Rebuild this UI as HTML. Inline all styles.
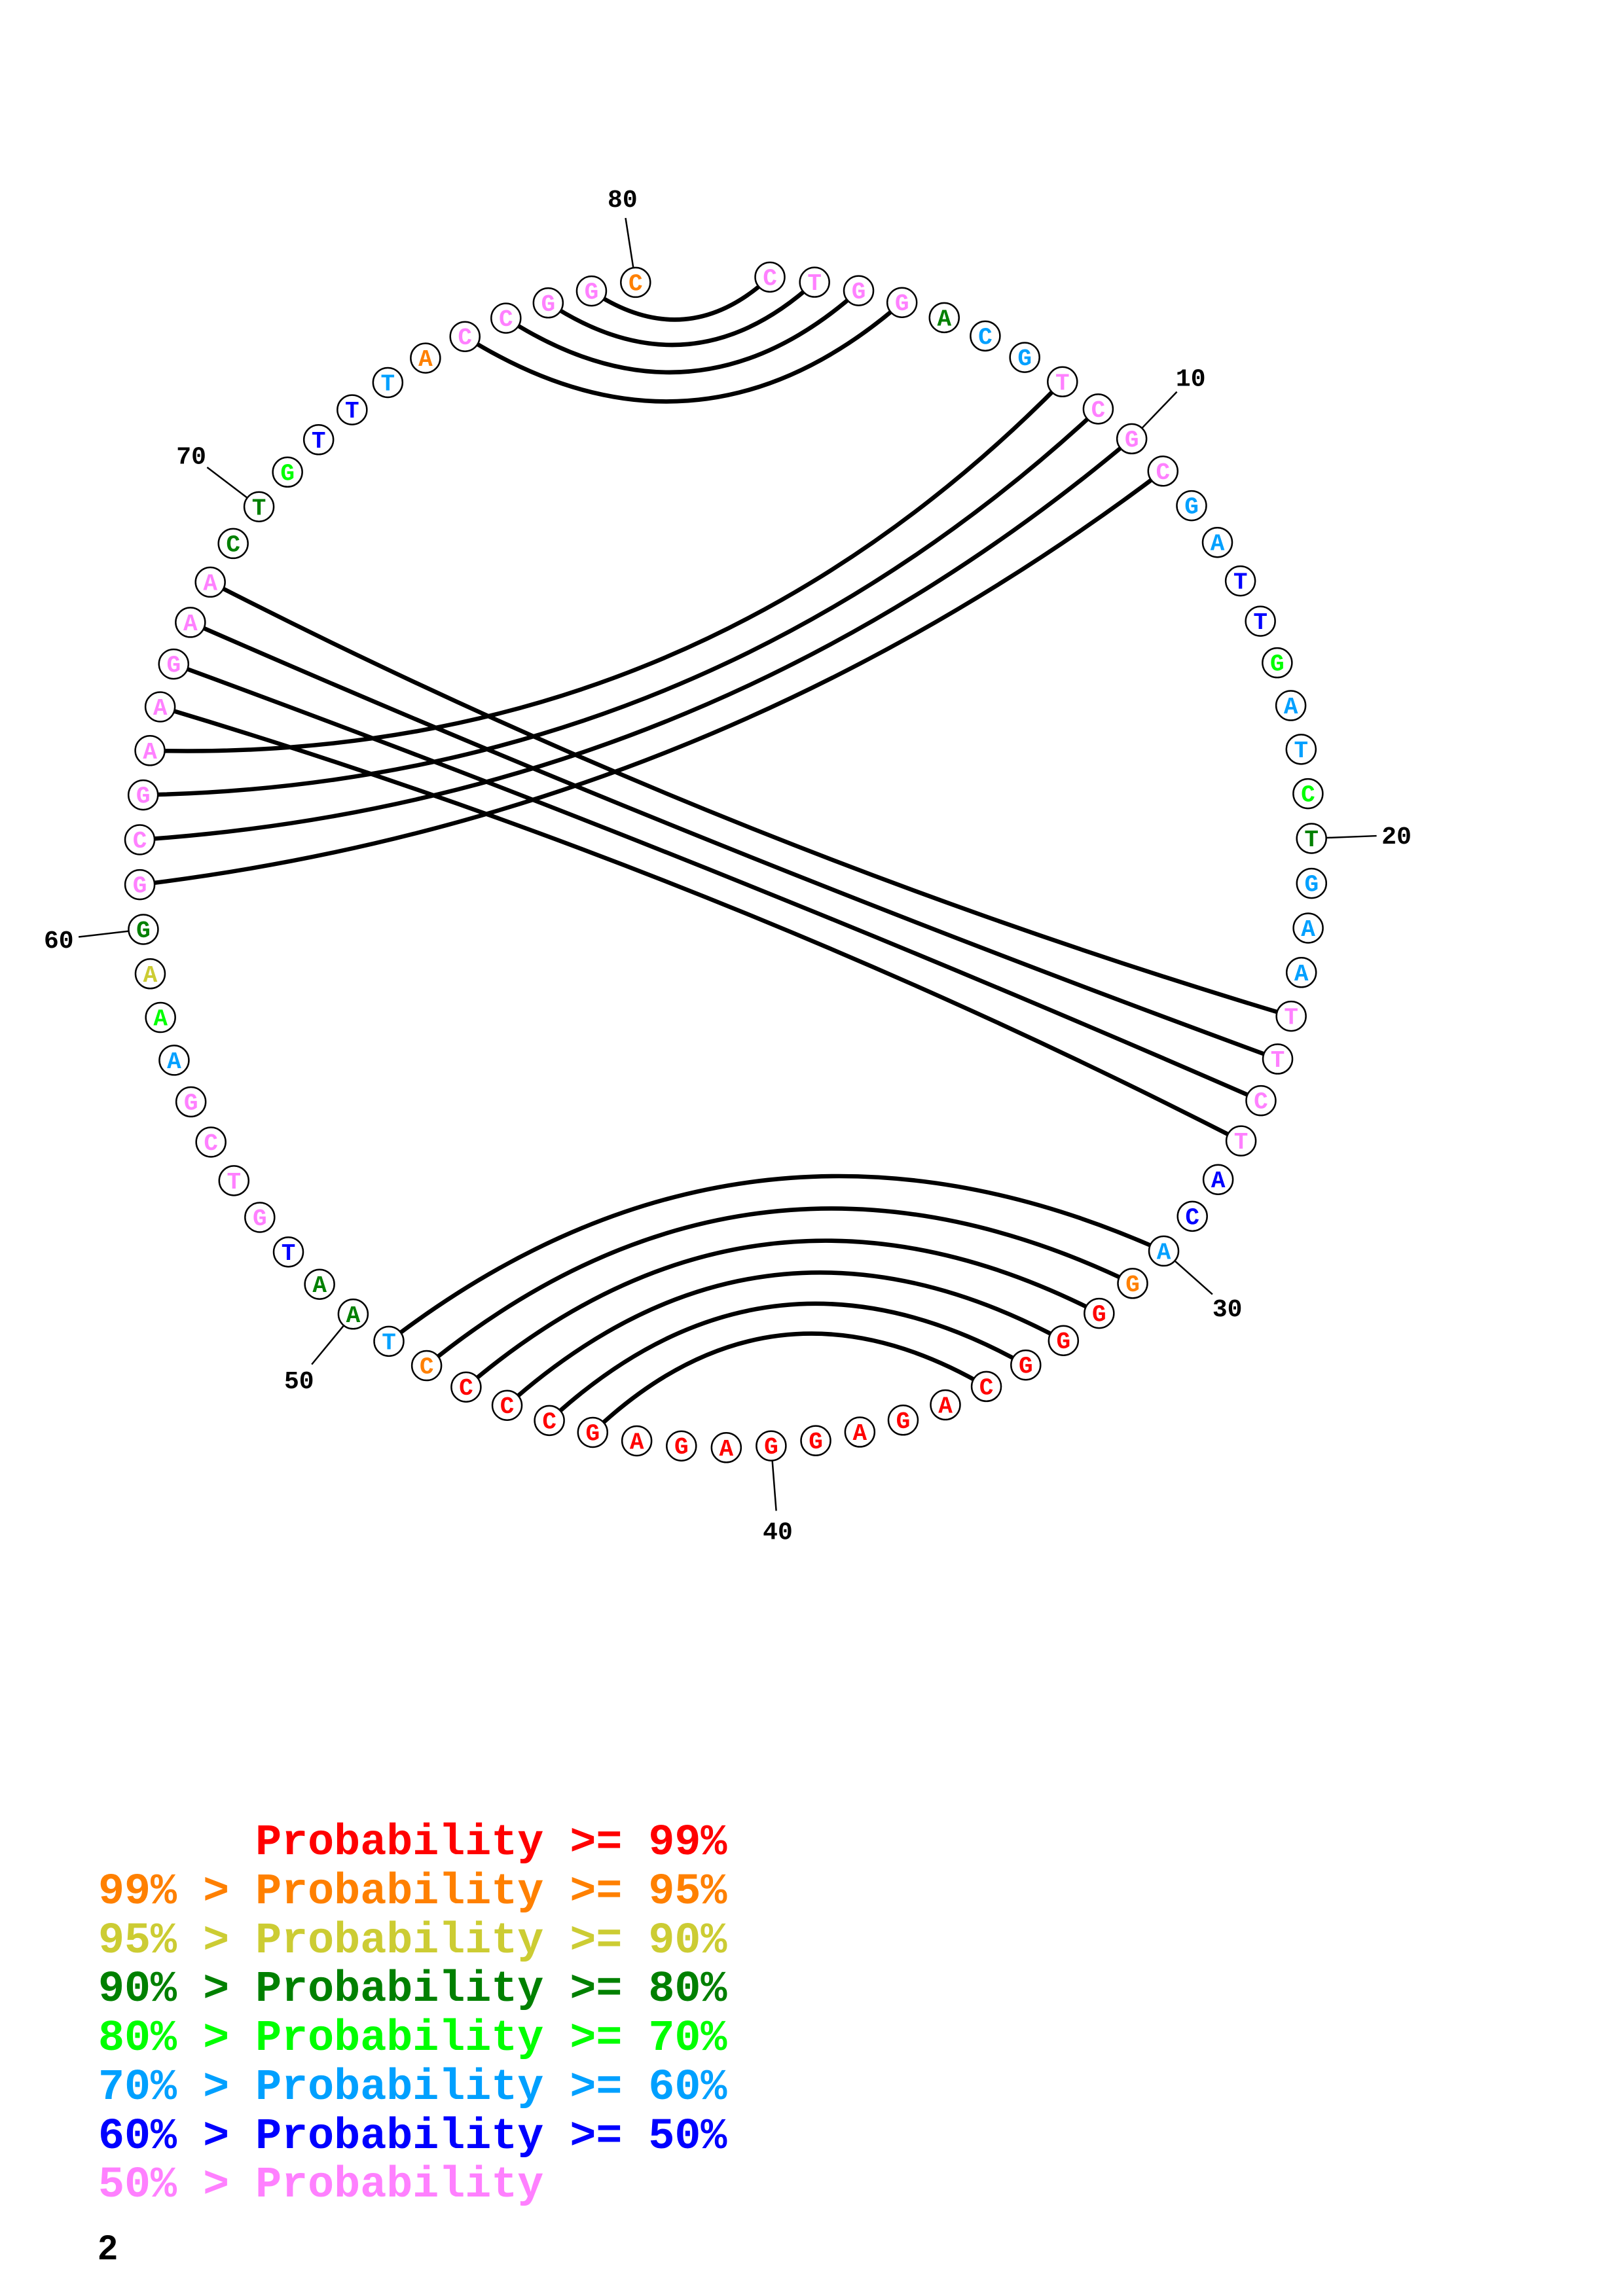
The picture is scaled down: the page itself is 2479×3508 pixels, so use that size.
<!DOCTYPE html>
<html><head><meta charset="utf-8"><style>
html,body{margin:0;padding:0;background:#fff}
svg{display:block}
.n circle{fill:#fff;stroke:#000;stroke-width:2.5}
.n text{font-family:"Liberation Mono",monospace;font-weight:bold;font-size:36px;text-anchor:middle}
.p text{fill:#FF80FF}.r text{fill:#FF0000}.o text{fill:#FF8000}.y text{fill:#CCCC33}
.d text{fill:#008000}.g text{fill:#00FF00}.b text{fill:#00A0FF}.k text{fill:#0000FF}
.lab{font-family:"Liberation Mono",monospace;font-weight:bold;font-size:38px;text-anchor:middle;fill:#000}
.leg text{font-family:"Liberation Mono",monospace;font-weight:bold;font-size:66.7px;white-space:pre}
</style></head><body>
<svg width="2479" height="3508" viewBox="0 0 2479 3508" xmlns="http://www.w3.org/2000/svg">
<g fill="none" stroke="#000" stroke-width="6.5">
<path d="M903.5 444.6 Q1048.1 541.7 1176.0 423.3"/>
<path d="M837.3 462.8 Q1053.1 605.4 1244.2 431.2"/>
<path d="M772.8 486.1 Q1058.1 670.5 1311.5 444.1"/>
<path d="M710.2 514.2 Q1063.2 735.9 1377.7 462.2"/>
<path d="M229.1 1146.8 Q1048.5 1168.1 1622.7 583.2"/>
<path d="M218.7 1214.6 Q1060.7 1198.4 1677.6 625.0"/>
<path d="M213.5 1283.0 Q1071.3 1224.6 1728.6 670.3"/>
<path d="M213.6 1351.6 Q1080.4 1246.9 1776.4 719.9"/>
<path d="M321.2 889.4 Q1116.3 1296.7 1972.2 1552.6"/>
<path d="M290.8 950.9 Q1111.0 1309.9 1951.5 1618.0"/>
<path d="M265.3 1014.6 Q1105.8 1322.7 1926.0 1681.7"/>
<path d="M244.6 1080.0 Q1100.5 1335.9 1895.6 1743.2"/>
<path d="M905.3 2188.5 Q1179.6 1927.1 1506.6 2118.4"/>
<path d="M839.1 2170.4 Q1172.0 1862.4 1566.8 2085.6"/>
<path d="M774.5 2147.2 Q1164.6 1799.1 1624.4 2048.2"/>
<path d="M711.9 2119.2 Q1157.6 1738.2 1679.0 2006.5"/>
<path d="M651.6 2086.5 Q1150.8 1680.6 1730.0 1960.9"/>
<path d="M594.1 2049.4 Q1144.6 1626.9 1777.4 1911.6"/>
</g>
<g transform="translate(1108.4 1316.3)">
<g stroke="#000" stroke-width="2.5">
<line transform="rotate(-46.16)" x1="919" y1="0" x2="995" y2="0"/>
<line transform="rotate(-2.26)" x1="919" y1="0" x2="995" y2="0"/>
<line transform="rotate(41.65)" x1="919" y1="0" x2="995" y2="0"/>
<line transform="rotate(85.55)" x1="919" y1="0" x2="995" y2="0"/>
<line transform="rotate(129.45)" x1="919" y1="0" x2="995" y2="0"/>
<line transform="rotate(173.35)" x1="919" y1="0" x2="995" y2="0"/>
<line transform="rotate(217.25)" x1="919" y1="0" x2="995" y2="0"/>
<line transform="rotate(261.16)" x1="919" y1="0" x2="995" y2="0"/>
</g>
<text class="lab" transform="rotate(-46.16) translate(1025.5) rotate(46.16)" y="13">10</text>
<text class="lab" transform="rotate(-2.26) translate(1025.5) rotate(2.26)" y="13">20</text>
<text class="lab" transform="rotate(41.65) translate(1025.5) rotate(-41.65)" y="13">30</text>
<text class="lab" transform="rotate(85.55) translate(1025.5) rotate(-85.55)" y="13">40</text>
<text class="lab" transform="rotate(129.45) translate(1025.5) rotate(-129.45)" y="13">50</text>
<text class="lab" transform="rotate(173.35) translate(1025.5) rotate(-173.35)" y="13">60</text>
<text class="lab" transform="rotate(217.25) translate(1025.5) rotate(-217.25)" y="13">70</text>
<text class="lab" transform="rotate(261.16) translate(1025.5) rotate(-261.16)" y="13">80</text>

<g class="n p" transform="rotate(-85.67) translate(895.5) rotate(85.67)"><circle r="22.5"/><text y="12">C</text></g>
<g class="n p" transform="rotate(-81.28) translate(895.5) rotate(81.28)"><circle r="22.5"/><text y="12">T</text></g>
<g class="n p" transform="rotate(-76.89) translate(895.5) rotate(76.89)"><circle r="22.5"/><text y="12">G</text></g>
<g class="n p" transform="rotate(-72.50) translate(895.5) rotate(72.50)"><circle r="22.5"/><text y="12">G</text></g>
<g class="n d" transform="rotate(-68.11) translate(895.5) rotate(68.11)"><circle r="22.5"/><text y="12">A</text></g>
<g class="n b" transform="rotate(-63.72) translate(895.5) rotate(63.72)"><circle r="22.5"/><text y="12">C</text></g>
<g class="n b" transform="rotate(-59.33) translate(895.5) rotate(59.33)"><circle r="22.5"/><text y="12">G</text></g>
<g class="n p" transform="rotate(-54.94) translate(895.5) rotate(54.94)"><circle r="22.5"/><text y="12">T</text></g>
<g class="n p" transform="rotate(-50.55) translate(895.5) rotate(50.55)"><circle r="22.5"/><text y="12">C</text></g>
<g class="n p" transform="rotate(-46.16) translate(895.5) rotate(46.16)"><circle r="22.5"/><text y="12">G</text></g>
<g class="n p" transform="rotate(-41.77) translate(895.5) rotate(41.77)"><circle r="22.5"/><text y="12">C</text></g>
<g class="n b" transform="rotate(-37.38) translate(895.5) rotate(37.38)"><circle r="22.5"/><text y="12">G</text></g>
<g class="n b" transform="rotate(-32.99) translate(895.5) rotate(32.99)"><circle r="22.5"/><text y="12">A</text></g>
<g class="n k" transform="rotate(-28.60) translate(895.5) rotate(28.60)"><circle r="22.5"/><text y="12">T</text></g>
<g class="n k" transform="rotate(-24.21) translate(895.5) rotate(24.21)"><circle r="22.5"/><text y="12">T</text></g>
<g class="n g" transform="rotate(-19.82) translate(895.5) rotate(19.82)"><circle r="22.5"/><text y="12">G</text></g>
<g class="n b" transform="rotate(-15.43) translate(895.5) rotate(15.43)"><circle r="22.5"/><text y="12">A</text></g>
<g class="n b" transform="rotate(-11.04) translate(895.5) rotate(11.04)"><circle r="22.5"/><text y="12">T</text></g>
<g class="n g" transform="rotate(-6.65) translate(895.5) rotate(6.65)"><circle r="22.5"/><text y="12">C</text></g>
<g class="n d" transform="rotate(-2.26) translate(895.5) rotate(2.26)"><circle r="22.5"/><text y="12">T</text></g>
<g class="n b" transform="rotate(2.13) translate(895.5) rotate(-2.13)"><circle r="22.5"/><text y="12">G</text></g>
<g class="n b" transform="rotate(6.52) translate(895.5) rotate(-6.52)"><circle r="22.5"/><text y="12">A</text></g>
<g class="n b" transform="rotate(10.91) translate(895.5) rotate(-10.91)"><circle r="22.5"/><text y="12">A</text></g>
<g class="n p" transform="rotate(15.30) translate(895.5) rotate(-15.30)"><circle r="22.5"/><text y="12">T</text></g>
<g class="n p" transform="rotate(19.69) translate(895.5) rotate(-19.69)"><circle r="22.5"/><text y="12">T</text></g>
<g class="n p" transform="rotate(24.08) translate(895.5) rotate(-24.08)"><circle r="22.5"/><text y="12">C</text></g>
<g class="n p" transform="rotate(28.47) translate(895.5) rotate(-28.47)"><circle r="22.5"/><text y="12">T</text></g>
<g class="n k" transform="rotate(32.86) translate(895.5) rotate(-32.86)"><circle r="22.5"/><text y="12">A</text></g>
<g class="n k" transform="rotate(37.25) translate(895.5) rotate(-37.25)"><circle r="22.5"/><text y="12">C</text></g>
<g class="n b" transform="rotate(41.65) translate(895.5) rotate(-41.65)"><circle r="22.5"/><text y="12">A</text></g>
<g class="n o" transform="rotate(46.04) translate(895.5) rotate(-46.04)"><circle r="22.5"/><text y="12">G</text></g>
<g class="n r" transform="rotate(50.43) translate(895.5) rotate(-50.43)"><circle r="22.5"/><text y="12">G</text></g>
<g class="n r" transform="rotate(54.82) translate(895.5) rotate(-54.82)"><circle r="22.5"/><text y="12">G</text></g>
<g class="n r" transform="rotate(59.21) translate(895.5) rotate(-59.21)"><circle r="22.5"/><text y="12">G</text></g>
<g class="n r" transform="rotate(63.60) translate(895.5) rotate(-63.60)"><circle r="22.5"/><text y="12">C</text></g>
<g class="n r" transform="rotate(67.99) translate(895.5) rotate(-67.99)"><circle r="22.5"/><text y="12">A</text></g>
<g class="n r" transform="rotate(72.38) translate(895.5) rotate(-72.38)"><circle r="22.5"/><text y="12">G</text></g>
<g class="n r" transform="rotate(76.77) translate(895.5) rotate(-76.77)"><circle r="22.5"/><text y="12">A</text></g>
<g class="n r" transform="rotate(81.16) translate(895.5) rotate(-81.16)"><circle r="22.5"/><text y="12">G</text></g>
<g class="n r" transform="rotate(85.55) translate(895.5) rotate(-85.55)"><circle r="22.5"/><text y="12">G</text></g>
<g class="n r" transform="rotate(89.94) translate(895.5) rotate(-89.94)"><circle r="22.5"/><text y="12">A</text></g>
<g class="n r" transform="rotate(94.33) translate(895.5) rotate(-94.33)"><circle r="22.5"/><text y="12">G</text></g>
<g class="n r" transform="rotate(98.72) translate(895.5) rotate(-98.72)"><circle r="22.5"/><text y="12">A</text></g>
<g class="n r" transform="rotate(103.11) translate(895.5) rotate(-103.11)"><circle r="22.5"/><text y="12">G</text></g>
<g class="n r" transform="rotate(107.50) translate(895.5) rotate(-107.50)"><circle r="22.5"/><text y="12">C</text></g>
<g class="n r" transform="rotate(111.89) translate(895.5) rotate(-111.89)"><circle r="22.5"/><text y="12">C</text></g>
<g class="n r" transform="rotate(116.28) translate(895.5) rotate(-116.28)"><circle r="22.5"/><text y="12">C</text></g>
<g class="n o" transform="rotate(120.67) translate(895.5) rotate(-120.67)"><circle r="22.5"/><text y="12">C</text></g>
<g class="n b" transform="rotate(125.06) translate(895.5) rotate(-125.06)"><circle r="22.5"/><text y="12">T</text></g>
<g class="n d" transform="rotate(129.45) translate(895.5) rotate(-129.45)"><circle r="22.5"/><text y="12">A</text></g>
<g class="n d" transform="rotate(133.84) translate(895.5) rotate(-133.84)"><circle r="22.5"/><text y="12">A</text></g>
<g class="n k" transform="rotate(138.23) translate(895.5) rotate(-138.23)"><circle r="22.5"/><text y="12">T</text></g>
<g class="n p" transform="rotate(142.62) translate(895.5) rotate(-142.62)"><circle r="22.5"/><text y="12">G</text></g>
<g class="n p" transform="rotate(147.01) translate(895.5) rotate(-147.01)"><circle r="22.5"/><text y="12">T</text></g>
<g class="n p" transform="rotate(151.40) translate(895.5) rotate(-151.40)"><circle r="22.5"/><text y="12">C</text></g>
<g class="n p" transform="rotate(155.79) translate(895.5) rotate(-155.79)"><circle r="22.5"/><text y="12">G</text></g>
<g class="n b" transform="rotate(160.18) translate(895.5) rotate(-160.18)"><circle r="22.5"/><text y="12">A</text></g>
<g class="n g" transform="rotate(164.57) translate(895.5) rotate(-164.57)"><circle r="22.5"/><text y="12">A</text></g>
<g class="n y" transform="rotate(168.96) translate(895.5) rotate(-168.96)"><circle r="22.5"/><text y="12">A</text></g>
<g class="n d" transform="rotate(173.35) translate(895.5) rotate(-173.35)"><circle r="22.5"/><text y="12">G</text></g>
<g class="n p" transform="rotate(177.74) translate(895.5) rotate(-177.74)"><circle r="22.5"/><text y="12">G</text></g>
<g class="n p" transform="rotate(182.13) translate(895.5) rotate(-182.13)"><circle r="22.5"/><text y="12">C</text></g>
<g class="n p" transform="rotate(186.52) translate(895.5) rotate(-186.52)"><circle r="22.5"/><text y="12">G</text></g>
<g class="n p" transform="rotate(190.91) translate(895.5) rotate(-190.91)"><circle r="22.5"/><text y="12">A</text></g>
<g class="n p" transform="rotate(195.30) translate(895.5) rotate(-195.30)"><circle r="22.5"/><text y="12">A</text></g>
<g class="n p" transform="rotate(199.69) translate(895.5) rotate(-199.69)"><circle r="22.5"/><text y="12">G</text></g>
<g class="n p" transform="rotate(204.08) translate(895.5) rotate(-204.08)"><circle r="22.5"/><text y="12">A</text></g>
<g class="n p" transform="rotate(208.47) translate(895.5) rotate(-208.47)"><circle r="22.5"/><text y="12">A</text></g>
<g class="n d" transform="rotate(212.86) translate(895.5) rotate(-212.86)"><circle r="22.5"/><text y="12">C</text></g>
<g class="n d" transform="rotate(217.25) translate(895.5) rotate(-217.25)"><circle r="22.5"/><text y="12">T</text></g>
<g class="n g" transform="rotate(221.64) translate(895.5) rotate(-221.64)"><circle r="22.5"/><text y="12">G</text></g>
<g class="n k" transform="rotate(226.03) translate(895.5) rotate(-226.03)"><circle r="22.5"/><text y="12">T</text></g>
<g class="n k" transform="rotate(230.42) translate(895.5) rotate(-230.42)"><circle r="22.5"/><text y="12">T</text></g>
<g class="n b" transform="rotate(234.81) translate(895.5) rotate(-234.81)"><circle r="22.5"/><text y="12">T</text></g>
<g class="n o" transform="rotate(239.20) translate(895.5) rotate(-239.20)"><circle r="22.5"/><text y="12">A</text></g>
<g class="n p" transform="rotate(243.60) translate(895.5) rotate(-243.60)"><circle r="22.5"/><text y="12">C</text></g>
<g class="n p" transform="rotate(247.99) translate(895.5) rotate(-247.99)"><circle r="22.5"/><text y="12">C</text></g>
<g class="n p" transform="rotate(252.38) translate(895.5) rotate(-252.38)"><circle r="22.5"/><text y="12">G</text></g>
<g class="n p" transform="rotate(256.77) translate(895.5) rotate(-256.77)"><circle r="22.5"/><text y="12">G</text></g>
<g class="n o" transform="rotate(261.16) translate(895.5) rotate(-261.16)"><circle r="22.5"/><text y="12">C</text></g>
</g>
<g class="leg">
<text x="150" y="2833" fill="#FF0000">&#160;&#160;&#160;&#160;&#160;&#160;Probability &gt;= 99%</text>
<text x="150" y="2908" fill="#FF8000">99% &gt; Probability &gt;= 95%</text>
<text x="150" y="2983" fill="#CCCC33">95% &gt; Probability &gt;= 90%</text>
<text x="150" y="3057" fill="#008000">90% &gt; Probability &gt;= 80%</text>
<text x="150" y="3132" fill="#00FF00">80% &gt; Probability &gt;= 70%</text>
<text x="150" y="3207" fill="#00A0FF">70% &gt; Probability &gt;= 60%</text>
<text x="150" y="3282" fill="#0000FF">60% &gt; Probability &gt;= 50%</text>
<text x="150" y="3356" fill="#FF80FF">50% &gt; Probability</text>
</g>
<text x="150" y="3452" font-family="Liberation Sans, sans-serif" font-weight="bold" font-size="53" fill="#000">2</text>
</svg>
</body></html>
